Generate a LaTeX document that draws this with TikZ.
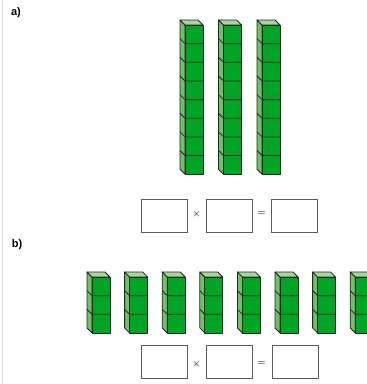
\documentclass[tikz,border=0pt]{standalone}
\usepackage{fontspec}
\setsansfont{Liberation Sans}
\usetikzlibrary{positioning}

\definecolor{cubefront}{HTML}{00A526}
\definecolor{cubeside}{HTML}{6CC264}
\definecolor{cubetop}{HTML}{A2D89C}
\definecolor{cubeedge}{HTML}{262626}
\definecolor{boxgray}{HTML}{5A5A5A}
\definecolor{signgray}{HTML}{333333}

\tikzset{
  cubeline/.style={draw=cubeedge,line width=0.8pt,line join=round},
  answerbox/.style={draw=boxgray,line width=0.9pt,minimum width=46pt,minimum height=33pt,inner sep=0pt},
  sign/.style={text=signgray,font=\small\boldmath,inner sep=0pt},
  partlabel/.style={font=\sffamily\bfseries\fontsize{11}{13}\selectfont,inner sep=0pt}
}

% tower of cubes: front left x, front top y, number of cubes
\newcommand{\cubetower}[3]{%
  \pgfmathsetmacro{\tb}{#2+#3*18.65}
  \pgfmathtruncatemacro{\nn}{#3-1}
  \filldraw[cubeline,fill=cubeside] (#1,#2) -- (#1-5,#2-5) -- (#1-5,\tb-5) -- (#1,\tb) -- cycle;
  \filldraw[cubeline,fill=cubetop] (#1,#2) -- (#1-5,#2-5) -- (#1+13,#2-5) -- (#1+18,#2) -- cycle;
  \filldraw[cubeline,fill=cubefront] (#1,#2) rectangle (#1+18,\tb);
  \foreach \k in {1,...,\nn}
    \draw[cubeline] (#1-5,#2+\k*18.65-5) -- (#1,#2+\k*18.65) -- (#1+18,#2+\k*18.65);
}

\begin{document}
\begin{tikzpicture}[x=1pt,y=-1pt]
\useasboundingbox (0,0) rectangle (367,384);
\clip (0,0) rectangle (367,384);
\draw[gray!25] (2,0) -- (2,384);

% part a
\node[partlabel] (labela) at (16,13) {a)};
\foreach \i in {0,1,2}
  \cubetower{185+38.5*\i}{25}{8};
\node[answerbox] (boxaone) at (164,215.5) {};
\node[answerbox] (boxatwo) at (229,215.5) {};
\node[answerbox] (boxathree) at (294.5,215.5) {};
\node[sign] (timesa) at (196.5,214) {$\times$};
\node[sign] (equalsa) at (261.5,214) {$=$};

% part b
\node[partlabel] (labelb) at (17,245) {b)};
\foreach \i in {0,...,7}
  \cubetower{92+37.6*\i}{277}{3};
\node[answerbox] (boxbone) at (164,362) {};
\node[answerbox] (boxbtwo) at (229,362) {};
\node[answerbox] (boxbthree) at (295,362) {};
\node[sign] (timesb) at (196.5,364) {$\times$};
\node[sign] (equalsb) at (261.5,364) {$=$};
\end{tikzpicture}
\end{document}
